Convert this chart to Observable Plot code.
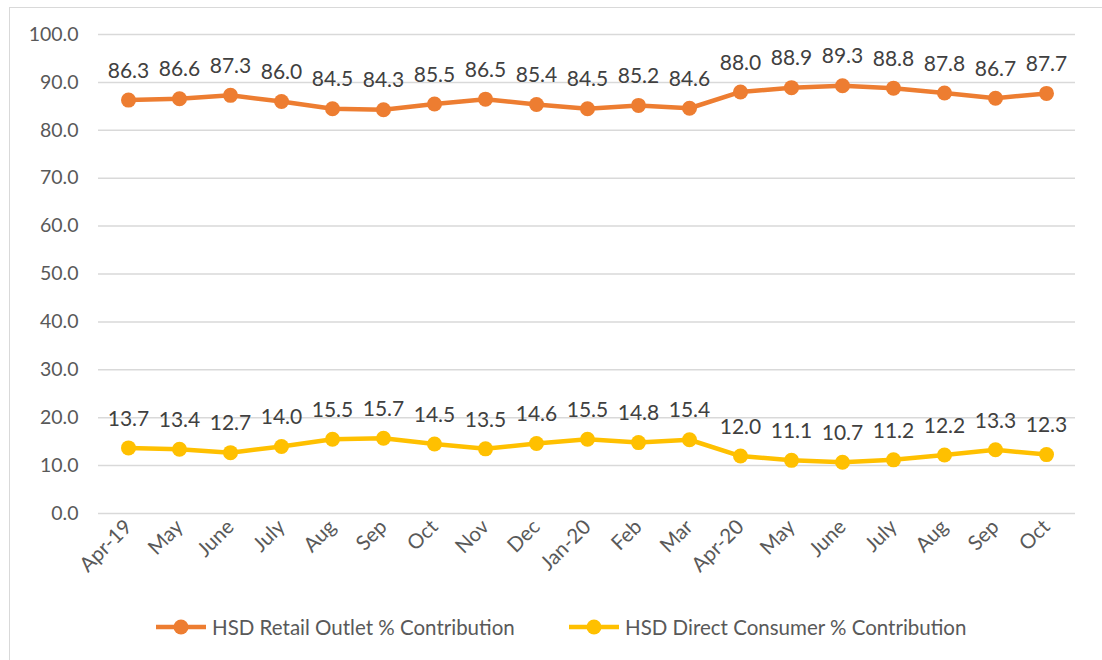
<!DOCTYPE html>
<html>
<head>
<meta charset="utf-8">
<script src="https://cdn.jsdelivr.net/npm/d3@7"></script>
<script src="https://cdn.jsdelivr.net/npm/@observablehq/plot@0.6"></script>
<style>
  html, body { margin: 0; padding: 0; background: #fff; }
  body { width: 1102px; height: 660px; position: relative; overflow: hidden; font-family: Lato, "Open Sans", sans-serif; }
  #frame { position: absolute; left: 9px; top: 7px; width: 1100px; height: 660px; border: 1px solid #d9d9d9; box-sizing: border-box; }
  #chart { position: absolute; left: 0; top: 0; }
  #legend { position: absolute; left: 0; top: 612px; width: 1102px; height: 30px; }
  .item { position: absolute; top: 0; display: flex; align-items: center; font-size: 20.5px; color: #595959; }
  .item svg { margin-right: 5px; }
</style>
</head>
<body>
<div id="frame"></div>
<div id="chart"></div>
<div id="legend"></div>
<script>
const months = ["Apr-19","May","June","July","Aug","Sep","Oct","Nov","Dec","Jan-20","Feb","Mar","Apr-20","May","June","July","Aug","Sep","Oct"];
const retail = [86.3,86.6,87.3,86.0,84.5,84.3,85.5,86.5,85.4,84.5,85.2,84.6,88.0,88.9,89.3,88.8,87.8,86.7,87.7];
const direct = [13.7,13.4,12.7,14.0,15.5,15.7,14.5,13.5,14.6,15.5,14.8,15.4,12.0,11.1,10.7,11.2,12.2,13.3,12.3];
const seriesNames = ["HSD Retail Outlet % Contribution","HSD Direct Consumer % Contribution"];
const seriesColors = ["#ED7D31","#FFC000"];
const yTicks = [0,10,20,30,40,50,60,70,80,90,100];

const rows = [];
[retail, direct].forEach((vals, s) => vals.forEach((v, i) => rows.push({i, v, s: seriesNames[s]})));

const plot = Plot.plot({
  width: 1102,
  height: 590,
  marginLeft: 98,
  marginRight: 27,
  marginTop: 34,
  marginBottom: 77,
  style: {fontFamily: "Lato, 'Open Sans', sans-serif", fontSize: "19px", color: "#595959", background: "transparent"},
  x: {type: "point", domain: d3.range(months.length), padding: 0.5, label: null},
  y: {domain: [0, 100], label: null},
  color: {domain: seriesNames, range: seriesColors},
  marks: [
    Plot.ruleY(yTicks, {stroke: "#d9d9d9", strokeWidth: 1.5}),
    Plot.axisY({ticks: yTicks, tickFormat: d3.format(".1f"), tickSize: 0, tickPadding: 20, fontSize: 19.5, fill: "#595959"}),
    Plot.axisX({tickFormat: i => months[i], tickRotate: -45, tickSize: 0, tickPadding: 10, fontSize: 20.5, fill: "#595959"}),
    Plot.line(rows, {x: "i", y: "v", z: "s", stroke: "s", strokeWidth: 4.5, curve: "linear"}),
    Plot.dot(rows, {x: "i", y: "v", fill: "s", r: 7.5}),
    Plot.text(rows, {x: "i", y: "v", text: d => d.v.toFixed(1), dy: -29, fontSize: 21, fill: "#404040"})
  ]
});
document.getElementById("chart").appendChild(plot);

const legend = document.getElementById("legend");
const lefts = [155, 568];
seriesNames.forEach((name, k) => {
  const div = document.createElement("div");
  div.className = "item";
  div.style.left = lefts[k] + "px";
  div.innerHTML = `<svg width="52" height="30"><line x1="1" y1="15" x2="51" y2="15" stroke="${seriesColors[k]}" stroke-width="4.5"/><circle cx="26" cy="15" r="7.5" fill="${seriesColors[k]}"/></svg><span>${name}</span>`;
  legend.appendChild(div);
});
</script>
</body>
</html>
